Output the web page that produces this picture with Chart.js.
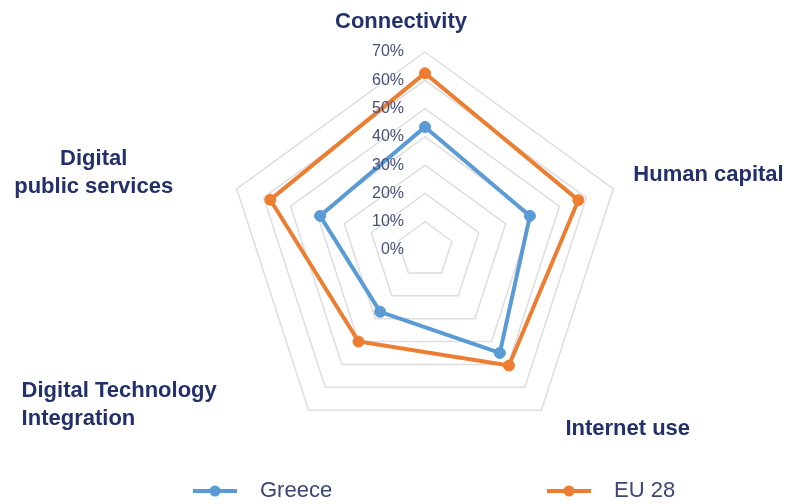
<!DOCTYPE html>
<html>
<head>
<meta charset="utf-8">
<script src="https://cdn.jsdelivr.net/npm/chart.js@4/dist/chart.umd.min.js"></script>
<style>
  html, body { margin: 0; padding: 0; background: #ffffff; }
  #wrap { width: 790px; height: 504px; position: relative; }
</style>
</head>
<body>
<div id="wrap"><canvas id="radar"></canvas></div>
<script>
// Dimensions of the Digital Economy and Society Index
const categories = [
  'Connectivity',
  'Human capital',
  'Internet use',
  ['Digital Technology', 'Integration'],
  ['Digital', 'public services']
];
const seriesNames = ['Greece', 'EU 28'];
const greeceValues = [43.5, 39, 45, 27, 39];
const eu28Values = [62.5, 57, 50.5, 40, 57.5];
const tickValues = [0, 10, 20, 30, 40, 50, 60, 70];
const tickLabels = ['0%', '10%', '20%', '30%', '40%', '50%', '60%', '70%'];

const BLUE = '#5b9bd5';
const ORANGE = '#ed7d31';
const LABEL_COLOR = '#23306a';
const TICK_COLOR = '#46507c';
const FONT = 'Liberation Sans, Arial, Helvetica, sans-serif';

// Placement of category captions relative to the outer ring vertex of each axis
const captionLayout = [
  { dx: -24, dy: -30, align: 'center' },
  { dx: 20, dy: -14, align: 'left' },
  { dx: 24, dy: 19, align: 'left' },
  { dx: -287, dy: -19, align: 'left' },
  { dx: -143, dy: -30, align: 'center' }
];
const captionLineHeight = 28;

// Legend entry start positions (line swatch left edge) and baseline row
const legendStarts = [193, 547];
const legendY = 491;

// Percentage tick labels, right aligned just left of the vertical axis
const tickLabelPlugin = {
  id: 'tickLabels',
  afterDatasetsDraw(chart) {
    const scale = chart.scales.r;
    const ctx = chart.ctx;
    ctx.save();
    ctx.font = '16px ' + FONT;
    ctx.fillStyle = TICK_COLOR;
    ctx.textAlign = 'right';
    ctx.textBaseline = 'middle';
    tickValues.forEach((v, i) => {
      const d = scale.getDistanceFromCenterForValue(v);
      ctx.fillText(tickLabels[i], scale.xCenter - 21, scale.yCenter - d);
    });
    ctx.restore();
  }
};

// Category captions around the web
const captionPlugin = {
  id: 'captions',
  afterDraw(chart) {
    const scale = chart.scales.r;
    const ctx = chart.ctx;
    ctx.save();
    ctx.font = 'bold 22px ' + FONT;
    ctx.fillStyle = LABEL_COLOR;
    ctx.textBaseline = 'middle';
    categories.forEach((cat, i) => {
      const p = scale.getPointPositionForValue(i, scale.max);
      const lay = captionLayout[i];
      const lines = Array.isArray(cat) ? cat : [cat];
      ctx.textAlign = lay.align;
      lines.forEach((line, k) => {
        ctx.fillText(line, p.x + lay.dx, p.y + lay.dy + k * captionLineHeight);
      });
    });
    ctx.restore();
  }
};

// Legend with line-and-marker swatches
const legendPlugin = {
  id: 'lineLegend',
  afterDraw(chart) {
    const ctx = chart.ctx;
    ctx.save();
    chart.data.datasets.forEach((ds, i) => {
      const x = legendStarts[i];
      ctx.strokeStyle = ds.borderColor;
      ctx.lineWidth = 4;
      ctx.beginPath();
      ctx.moveTo(x, legendY);
      ctx.lineTo(x + 44, legendY);
      ctx.stroke();
      ctx.fillStyle = ds.borderColor;
      ctx.beginPath();
      ctx.arc(x + 22, legendY, 5.5, 0, Math.PI * 2);
      ctx.fill();
      ctx.font = '22px ' + FONT;
      ctx.fillStyle = '#3a4676';
      ctx.textAlign = 'left';
      ctx.textBaseline = 'middle';
      ctx.fillText(ds.label, x + 67, legendY);
    });
    ctx.restore();
  }
};

new Chart(document.getElementById('radar'), {
  type: 'radar',
  data: {
    labels: categories,
    datasets: [
      {
        label: seriesNames[0],
        data: greeceValues,
        borderColor: BLUE,
        backgroundColor: BLUE,
        pointBackgroundColor: BLUE,
        pointBorderColor: BLUE,
        borderWidth: 4,
        pointRadius: 5.5,
        pointBorderWidth: 1,
        fill: false
      },
      {
        label: seriesNames[1],
        data: eu28Values,
        borderColor: ORANGE,
        backgroundColor: ORANGE,
        pointBackgroundColor: ORANGE,
        pointBorderColor: ORANGE,
        borderWidth: 4,
        pointRadius: 5.5,
        pointBorderWidth: 1,
        fill: false
      }
    ]
  },
  options: {
    responsive: true,
    maintainAspectRatio: false,
    animation: false,
    layout: { padding: { left: 60, right: 0, top: 52, bottom: 56 } },
    elements: { line: { tension: 0 } },
    plugins: {
      legend: { display: false },
      tooltip: { enabled: false }
    },
    scales: {
      r: {
        min: 0,
        max: 70,
        beginAtZero: true,
        ticks: { display: false, stepSize: 10 },
        grid: { color: '#dedede', lineWidth: 1.5 },
        angleLines: { display: false },
        pointLabels: { display: false }
      }
    }
  },
  plugins: [tickLabelPlugin, captionPlugin, legendPlugin]
});
</script>
</body>
</html>
